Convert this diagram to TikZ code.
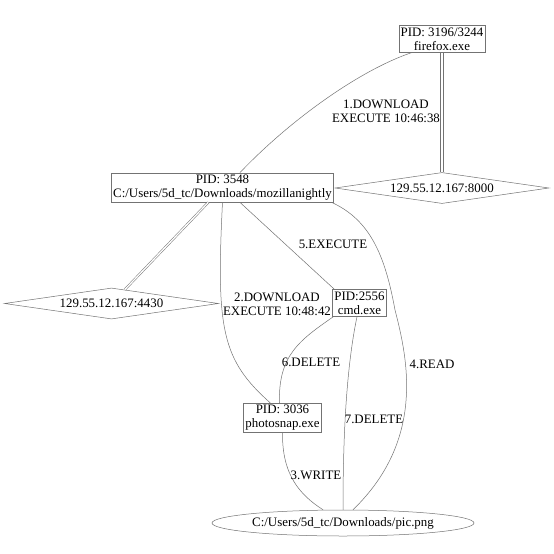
\documentclass[tikz,border=0pt]{standalone}
\usepackage{fontspec}
\setmainfont{Liberation Serif}
\usetikzlibrary{shapes.geometric}
\definecolor{lc}{gray}{0.45}
\begin{document}
\begin{tikzpicture}[x=1pt,y=-1pt,
  every node/.style={font=\fontsize{12.9}{14}\selectfont, align=center},
  proc/.style={draw=lc, rectangle, inner xsep=1.7pt, inner ysep=2pt, line width=0.5pt},
  sock/.style={draw=lc, diamond, aspect=7, minimum width=214pt, minimum height=31pt, inner sep=0pt, line width=0.5pt},
  filen/.style={draw=lc, ellipse, minimum width=262pt, minimum height=26pt, inner sep=0pt, line width=0.5pt},
  conn/.style={draw=lc, line width=0.5pt},
  dbl/.style={draw=lc, double=white, double distance=1.3pt, line width=0.5pt},
  rail/.style={draw=lc, line width=0.7pt},
  lbl/.style={inner sep=0pt}]
\useasboundingbox (0,0) rectangle (554,554);
\fill[white] (0,0) rectangle (554,554);

\node[proc] (ff) at (442,39) {PID: 3196/3244\\firefox.exe};
\node[proc] (moz) at (222.5,187.5) {PID: 3548\\C:/Users/5d\_tc/Downloads/mozillanightly};
\node[sock] (s8000) at (442,188) {129.55.12.167:8000};
\node[sock] (s4430) at (111.5,303.5) {129.55.12.167:4430};
\node[proc] (cmd) at (359.5,303) {PID:2556\\cmd.exe};
\node[proc] (photo) at (282.5,418) {PID: 3036\\photosnap.exe};
\node[filen] (pic) at (343,523) {C:/Users/5d\_tc/Downloads/pic.png};

% double connections
\draw[rail] ([xshift=-1.5pt]ff.south) -- ([xshift=-1.5pt]s8000.north);
\draw[rail] ([xshift=1.5pt]ff.south) -- ([xshift=1.5pt]s8000.north);
\draw[dbl] (moz) -- (s4430);

% 1
\draw[conn] ([xshift=13pt]ff.south west) .. controls (360,70) and (290,120) .. ([xshift=17.5pt]moz.north);
\node[lbl] (l1) at (386,111) {1.DOWNLOAD\\EXECUTE 10:46:38};
% 2
\draw[conn] (moz.south) .. controls (216,330) and (222,360) .. ([xshift=-12pt]photo.north);
\node[lbl] (l2) at (277,304) {2.DOWNLOAD\\EXECUTE 10:48:42};
% 5
\draw[conn] ([xshift=17.5pt]moz.south) -- ([xshift=2pt]cmd.north west);
\node[lbl] (l5) at (333,244) {5.EXECUTE};
% 4
\draw[conn] ([xshift=-2pt]moz.south east) .. controls (370,220) and (385,255) .. (395,310)
  .. controls (408,360) and (425,440) .. ([xshift=10pt]pic.north);
\node[lbl] (l4) at (432,364) {4.READ};
% 6
\draw[conn] ([xshift=1pt]cmd.south west) .. controls (300,340) and (278,355) .. ([xshift=-3pt]photo.north);
\node[lbl] (l6) at (311,362) {6.DELETE};
% 7
\draw[conn] ([xshift=-2.5pt]cmd.south) .. controls (348,360) and (343,420) .. (pic.north);
\node[lbl] (l7) at (374,419) {7.DELETE};
% 3
\draw[conn] (photo.south) .. controls (282,475) and (300,495) .. ([xshift=-20pt]pic.north);
\node[lbl] (l3) at (316,475) {3.WRITE};
\end{tikzpicture}
\end{document}
